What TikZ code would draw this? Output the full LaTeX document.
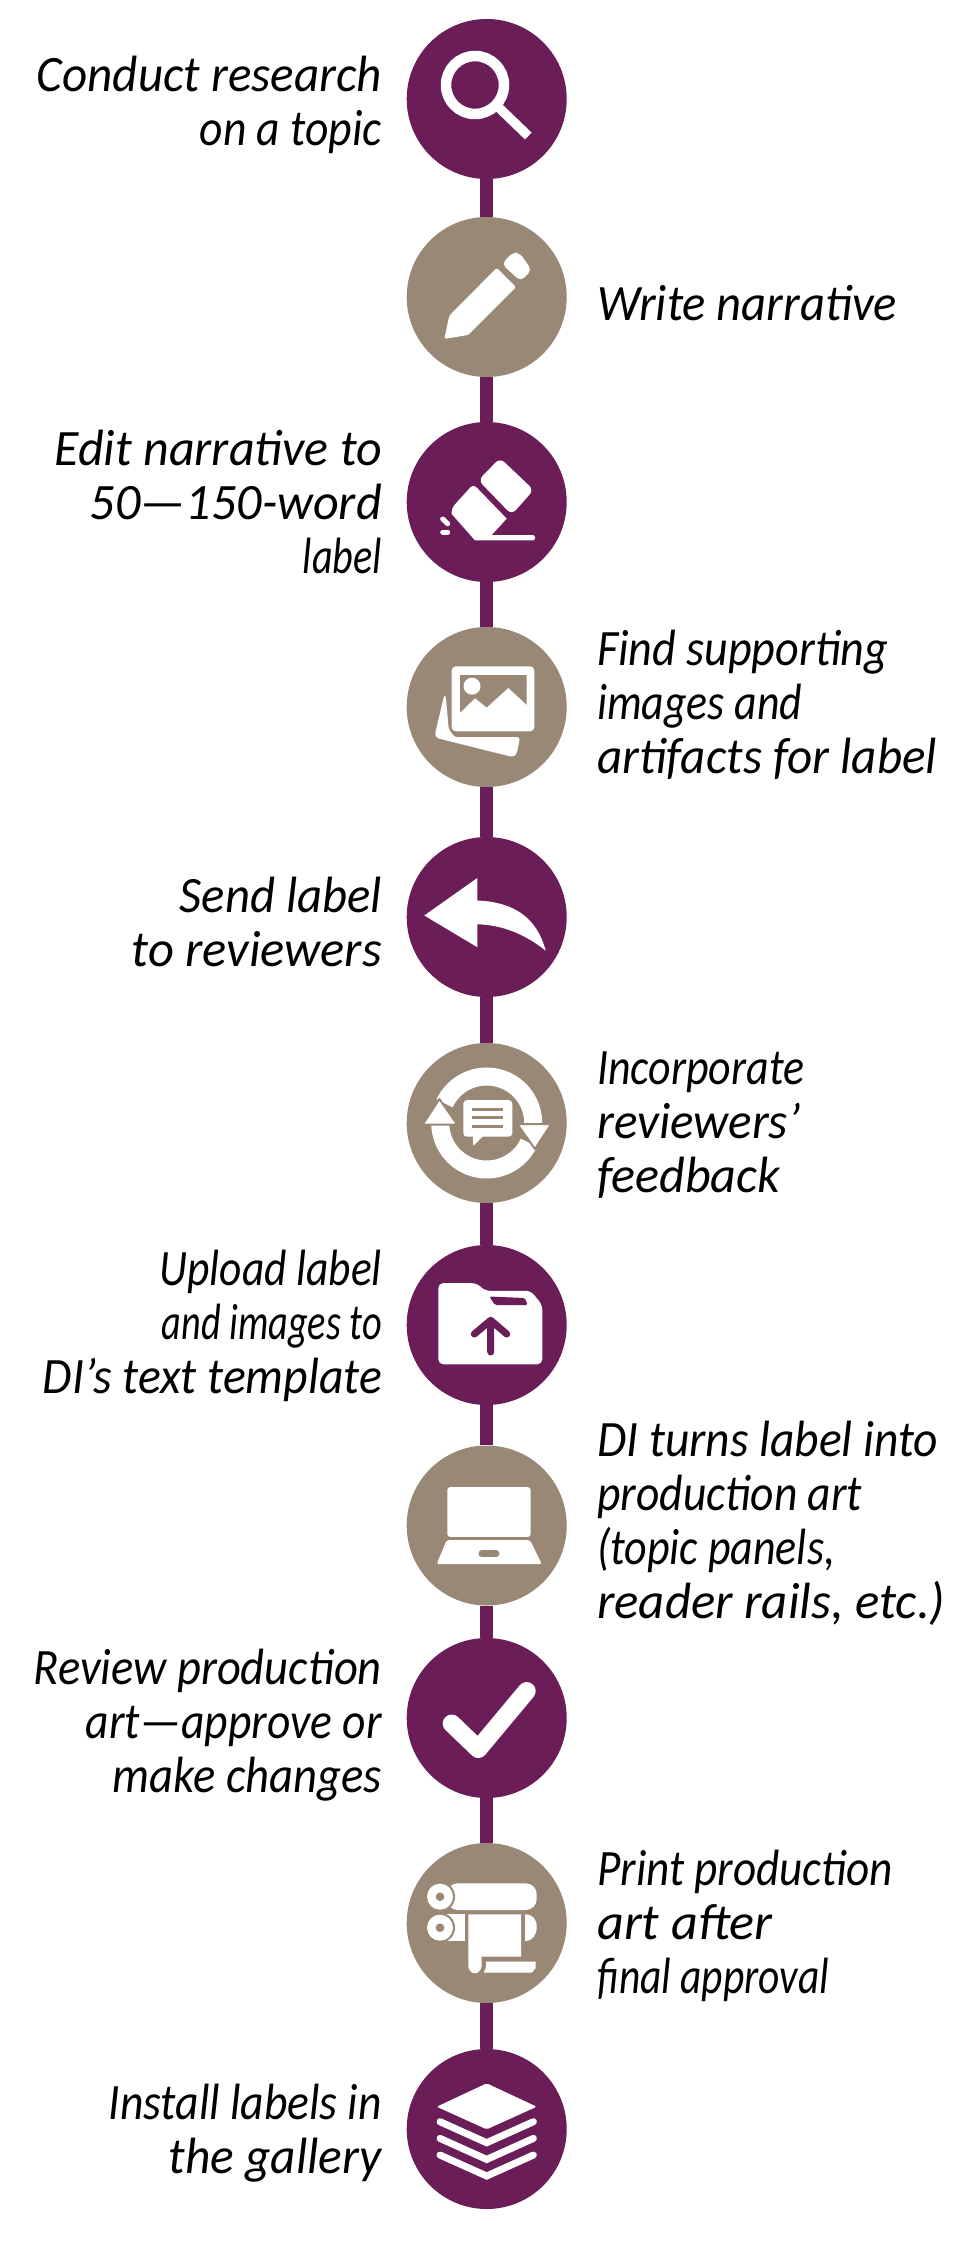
\documentclass[tikz,border=0pt]{standalone}
\usepackage{graphicx}
\usepackage{fontspec}
\setmainfont{Carlito}
\definecolor{plum}{HTML}{6A1D56}
\definecolor{taupe}{HTML}{998875}
\newlength\fitlen
\newcommand\fitw[2]{\settowidth\fitlen{#2}\pgfmathsetmacro\fitr{#1/\fitlen}\scalebox{\fitr}[1]{#2}}
\tikzset{
 disc/.style={circle,minimum size=160pt,inner sep=0pt,draw=none},
 plumdisc/.style={disc,fill=plum},
 taupedisc/.style={disc,fill=taupe},
 link/.style={draw=plum,line width=13pt},
 lefttext/.style={anchor=base east,align=right,inner sep=0pt,font=\itshape\fontsize{51}{54}\selectfont},
 righttext/.style={anchor=base west,align=left,inner sep=0pt,font=\itshape\fontsize{51}{54}\selectfont},
 ic/.style={fill=white,draw=none},
}
\begin{document}
\begin{tikzpicture}[x=1pt,y=-1pt]
\useasboundingbox (0,0) rectangle (975,2250);
\fill[white] (0,0) rectangle (975,2250);
\node[plumdisc] (c1) at (486.7,99) {};
\node[taupedisc] (c2) at (486.7,297) {};
\node[plumdisc] (c3) at (486.7,502) {};
\node[taupedisc] (c4) at (486.7,707) {};
\node[plumdisc] (c5) at (486.7,917) {};
\node[taupedisc] (c6) at (486.7,1123) {};
\node[plumdisc] (c7) at (486.7,1325) {};
\node[taupedisc] (c8) at (486.7,1525.5) {};
\node[plumdisc] (c9) at (486.7,1718) {};
\node[taupedisc] (c10) at (486.7,1923) {};
\node[plumdisc] (c11) at (486.7,2129) {};
\foreach \a/\b in {c1/c2,c2/c3,c3/c4,c4/c5,c5/c6,c6/c7,c7/c8,c8/c9,c9/c10,c10/c11}
  \draw[link] (\a) -- (\b);

% magnifier
\begin{scope}[shift={(c1.center)}]
\draw[white,line width=10.5pt] (-11.7,-14) circle[radius=29];
\draw[white,line width=9.5pt] (12,8.5) -- (41.6,37);
\end{scope}
% pencil
\begin{scope}[shift={(c2.center)}]
\fill[ic,rounded corners=1.5pt] (-42.4,42) -- (-37.4,18.7) -- (10,-29.1) -- (29.3,-10) -- (-18.4,37.9) -- cycle;
\fill[ic,rounded corners=5pt] (15,-33) -- (26,-44.5) -- (33,-44) -- (45,-27) -- (34,-15.7) -- cycle;
\end{scope}
% eraser
\begin{scope}[shift={(c3.center)}]
\fill[ic,rounded corners=6pt] (13.3,-44) -- (47,-12.1) -- (25,12.7) -- (-8.4,-21.7) -- cycle;
\fill[ic] (-13.4,-17.9) -- (20,16.6) -- (5,33) -- (46,33) to[out=0,in=0,looseness=1.5] (46,38.4) -- (-11.7,38.4) -- (-35,12) [rounded corners=4pt] -- (-35,6) -- cycle;
\draw[white,line width=5pt,line cap=round] (-44,17) -- (-39,21.7);
\draw[white,line width=5pt,line cap=round] (-44,30) -- (-39,30);
\end{scope}
% images
\begin{scope}[shift={(c4.center)}]
\fill[ic,rounded corners=4pt] (-35,-40.6) rectangle (47.6,24.3);
\fill[taupe] (-26.7,-31.9) -- (40,-31.9) -- (40,-2.2) -- (21.6,-19.2) -- (0,0.5) -- (-11.7,-8.9) -- (-26.7,5.7) -- cycle;
\fill[ic] (-14.7,-20.8) circle[radius=8.5];
\fill[ic,rounded corners=2.5pt] (-42.7,-11) -- (-51.7,27) -- (-50,31) -- (26,50) -- (30,47) -- (33.3,30.2) -- (-32,30.2) -- (-38,22) -- (-41,-11) -- cycle;
\end{scope}
% reply
\begin{scope}[shift={(c5.center)}]
\fill[ic] (-62.4,-1.5) -- (-9.4,-39) -- (-9.4,-16.5) .. controls (26.6,-15) and (50,0) .. (59,33.7) .. controls (33,13) and (10,8) .. (-9.4,7.2) -- (-9.4,30.2) -- cycle;
\end{scope}
% feedback cycle
\begin{scope}[shift={(c6.center)}]
\draw[white,line width=18pt] plot[domain=205:361,samples=40,smooth] ({46.5*cos(\x)},{46.5*sin(\x)});
\draw[white,line width=18pt] plot[domain=179:25,samples=40,smooth] ({46.5*cos(\x)},{46.5*sin(\x)});
\fill[ic,draw=taupe,line width=2pt,line join=round] (-64,1.5) -- (-47.3,-24) -- (-29.5,1.5) -- cycle;
\fill[ic,draw=taupe,line width=2pt,line join=round] (30.5,1) -- (64.5,1) -- (48.3,26) -- cycle;
\fill[ic,rounded corners=3.5pt] (-23.4,-22.8) rectangle (25.6,13.6);
\fill[ic] (-14,12) -- (-13.4,22.7) -- (-2.7,12) -- cycle;
\draw[taupe,line width=3pt] (-15,-13.7) -- (16,-13.7) (-15,-5.8) -- (16,-5.8) (-15,3) -- (16,3);
\end{scope}
% folder
\begin{scope}[shift={(c7.center)}]
\fill[ic,rounded corners=5pt] (-48.4,-41.9) -- (-10,-41.9) -- (-1.7,-34.2) -- (44,-34.2) -- (55.6,-20) -- (55.6,39.3) -- (-48.4,39.3) -- cycle;
\fill[plum,rounded corners=1.5pt] (2.6,-28.5) -- (38,-27) -- (41,-20) -- (8.3,-20) -- cycle;
\draw[plum,line width=7pt,line cap=round,line join=round] (4,27) -- (4,-4.7) (-12.4,9) -- (4,-4.7) -- (20,9);
\end{scope}
% laptop
\begin{scope}[shift={(c8.center)}]
\fill[ic,rounded corners=3pt] (-39.4,-38.4) rectangle (44,11.4);
\fill[ic,rounded corners=2pt] (-40,14.5) -- (43.3,14.5) -- (55,38.5) -- (-50,38.5) -- cycle;
\draw[taupe,line width=6.5pt,line cap=round] (-5,28.2) -- (9.5,28.2);
\end{scope}
% check
\begin{scope}[shift={(c9.center)}]
\draw[white,line width=18pt,line cap=round,line join=round] (-35,5.5) -- (-8.4,31) -- (40,-27);
\end{scope}
% printer
\begin{scope}[shift={(c10.center)}]
\fill[ic,rounded corners=11pt] (-40,-39.7) rectangle (50,-13);
\fill[taupe] (-46.7,-26.3) circle[radius=15];
\fill[ic] (-46.7,-26.3) circle[radius=13];
\fill[taupe] (-46.7,-26.3) circle[radius=4.3];
\fill[ic] (-40,-8.7) rectangle (-21.7,17.7);
\fill[taupe] (-46.7,4.7) circle[radius=15];
\fill[ic] (-46.7,4.7) circle[radius=13];
\fill[taupe] (-46.7,4.7) circle[radius=4.3];
\fill[ic] (38.3,-8.7) .. controls (46,-8.7) and (50,-4) .. (50,4) .. controls (50,12) and (46,17.7) .. (38.3,18) -- cycle;
\fill[ic] (-18.4,-8.7) -- (34.3,-8.7) -- (34.3,33.7) -- (-5,33.7) -- (-5,43) .. controls (-6,48) and (-9,50.3) .. (-11.7,50.3) .. controls (-15,50.3) and (-18.4,47) .. (-18.4,43) -- cycle;
\fill[ic] (-0.7,38.7) -- (49,38.7) -- (49,45) -- (45,49.7) -- (-3,49.7) .. controls (-1,46) and (0,42) .. (-0.7,38.7) -- cycle;
\end{scope}
% layers
\begin{scope}[shift={(c11.center)}]
\fill[ic,rounded corners=2pt] (0,-45.7) -- (50,-22.3) -- (0,0.3) -- (-50,-22.3) -- cycle;
\draw[white,line width=7pt,line cap=round,line join=miter] (-46.7,-7.3) -- (0,13.7) -- (46.7,-7.3);
\draw[white,line width=7pt,line cap=round,line join=miter] (-46.7,9.4) -- (0,30.4) -- (46.7,9.4);
\draw[white,line width=7pt,line cap=round,line join=miter] (-46.7,26) -- (0,47) -- (46.7,26);
\end{scope}

% labels
\node[lefttext] (t1) at (382,146) {\fitw{345}{Conduct research}\\\fitw{182}{on a topic}};
\node[righttext] (t2) at (597,320) {\fitw{300}{Write narrative}};
\node[lefttext] (t3) at (382,573) {\fitw{327}{Edit narrative to}\\\fitw{292}{50—150-word}\\\fitw{79}{label}};
\node[righttext] (t4) at (597,773) {\fitw{291}{Find supporting}\\\fitw{205}{images and}\\\fitw{340}{artifacts for label}};
\node[lefttext] (t5) at (382,966) {\fitw{202}{Send label}\\\fitw{250}{to reviewers}};
\node[righttext] (t6) at (597,1192) {\fitw{207}{Incorporate}\\\fitw{203}{reviewers’}\\\fitw{183}{feedback}};
\node[lefttext] (t7) at (382,1393) {\fitw{222}{Upload label}\\\fitw{220}{and images to}\\\fitw{339}{DI’s text template}};
\node[righttext] (t8) at (597,1618) {\fitw{341}{DI turns label into}\\\fitw{265}{production art}\\\fitw{238}{(topic panels,}\\\fitw{348}{reader rails, etc.)}};
\node[lefttext] (t9) at (382,1792) {\fitw{348}{Review production}\\\fitw{296}{art—approve or}\\\fitw{269}{make changes}};
\node[righttext] (t10) at (597,1993) {\fitw{296}{Print production}\\\fitw{175}{art after}\\\fitw{232}{final approval}};
\node[lefttext] (t11) at (382,2173) {\fitw{273}{Install labels in}\\\fitw{213}{the gallery}};
\end{tikzpicture}
\end{document}
